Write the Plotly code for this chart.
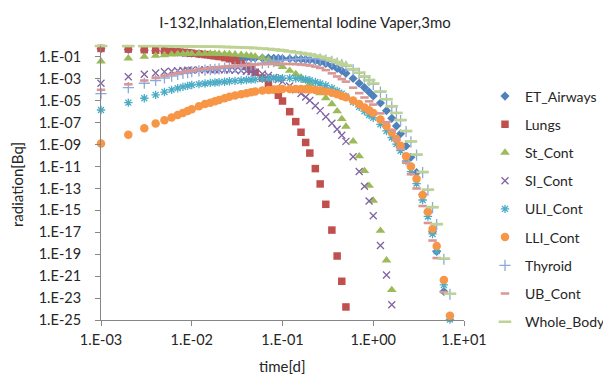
import plotly.graph_objects as go

# ---------------- data ----------------
time_d = [0.001, 0.002, 0.003, 0.004, 0.005, 0.006, 0.007, 0.008, 0.009,
          0.01, 0.012, 0.014, 0.016, 0.018, 0.02, 0.023, 0.026, 0.03, 0.035, 0.04, 0.045, 0.05, 0.06, 0.07, 0.08, 0.09,
          0.1, 0.12, 0.14, 0.16, 0.18, 0.2, 0.23, 0.26, 0.3, 0.35, 0.4, 0.45, 0.5, 0.6, 0.7, 0.8, 0.9,
          1.0, 1.2, 1.4, 1.6, 1.8, 2.0, 2.3, 2.6, 3.0, 3.5, 4.0, 4.5, 5.0, 6.0, 7.0]

et_airways = [5.6e-1, 4.8e-1, 4.2e-1, 3.7e-1, 3.3e-1, 3.0e-1, 2.75e-1, 2.5e-1, 2.34e-1,
              2.19e-1, 1.9e-1, 1.66e-1, 1.48e-1, 1.35e-1, 1.26e-1, 1.15e-1, 1.05e-1, 9.8e-2, 9.1e-2, 8.7e-2, 8.3e-2, 8.1e-2, 7.9e-2, 7.8e-2, 7.6e-2, 7.4e-2,
              7.2e-2, 6.9e-2, 6.6e-2, 6.3e-2, 5.9e-2, 5.4e-2, 4.5e-2, 3.5e-2, 2.5e-2, 1.5e-2, 8.9e-3, 5.6e-3, 3.2e-3, 1.1e-3, 4.0e-4, 1.6e-4, 6.3e-5,
              2.75e-5, 6.3e-6, 1.26e-6, 2.5e-7, 5.0e-8, 1.0e-8, 7.6e-10, 7.1e-11, 2.8e-12, 2.8e-14, 6.3e-16, 1.12e-17, 1.78e-19, 4.0e-23]

lungs = [6.0e-1, 5.2e-1, 4.6e-1, 4.1e-1, 3.6e-1, 3.2e-1, 2.9e-1, 2.6e-1, 2.4e-1,
         2.2e-1, 1.9e-1, 1.66e-1, 1.45e-1, 1.26e-1, 1.1e-1, 8.7e-2, 6.8e-2, 4.7e-2, 2.6e-2, 1.4e-2, 7.6e-3, 4.0e-3, 1.2e-3, 3.5e-4, 1.05e-4, 3.2e-5,
         9.5e-6, 1.02e-6, 1.26e-7, 1.35e-8, 1.58e-9, 1.7e-10, 6.5e-12, 2.6e-13, 3.6e-15, 1.6e-17, 6.9e-20, 3.4e-22, 1.55e-24]

st_cont = [4.0e-2, 7.6e-2, 1.07e-1, 1.32e-1, 1.51e-1, 1.7e-1, 1.82e-1, 1.9e-1, 1.95e-1,
           2.0e-1, 2.04e-1, 2.04e-1, 2.04e-1, 2.0e-1, 1.95e-1, 1.9e-1, 1.82e-1, 1.74e-1, 1.58e-1, 1.41e-1, 1.26e-1, 1.12e-1, 8.3e-2, 5.6e-2, 3.5e-2, 2.2e-2,
           1.26e-2, 5.6e-3, 2.8e-3, 1.4e-3, 7.1e-4, 3.5e-4, 1.26e-4, 5.0e-5, 1.78e-5, 5.0e-6, 1.12e-6, 2.24e-7, 4.5e-8, 2.0e-9, 8.9e-11, 4.0e-12, 1.78e-13,
           7.9e-15, 1.41e-17, 2.8e-20, 5.6e-23]

si_cont = [4.0e-4, 1.58e-3, 2.6e-3, 3.5e-3, 4.4e-3, 5.0e-3, 5.5e-3, 5.9e-3, 6.2e-3,
           6.3e-3, 6.6e-3, 6.8e-3, 6.8e-3, 6.8e-3, 6.8e-3, 6.6e-3, 6.5e-3, 6.2e-3, 5.6e-3, 5.0e-3, 4.4e-3, 3.8e-3, 2.8e-3, 2.0e-3, 1.35e-3, 8.9e-4,
           5.6e-4, 2.24e-4, 1.0e-4, 4.7e-5, 2.24e-5, 1.05e-5, 3.5e-6, 1.26e-6, 3.5e-7, 8.9e-8, 2.5e-8, 7.1e-9, 2.0e-9, 7.9e-11, 3.5e-12, 1.58e-13, 7.1e-15,
           3.2e-16, 6.3e-19, 1.26e-21, 2.5e-24]

uli_cont = [1.45e-6, 6.8e-6, 1.7e-5, 3.5e-5, 6.3e-5, 1.0e-4, 1.41e-4, 1.86e-4, 2.3e-4,
            2.75e-4, 3.3e-4, 3.8e-4, 4.3e-4, 4.7e-4, 5.0e-4, 5.5e-4, 6.0e-4, 6.6e-4, 7.2e-4, 7.9e-4, 8.5e-4, 9.1e-4, 1.0e-3, 1.07e-3, 1.12e-3, 1.15e-3,
            1.17e-3, 1.17e-3, 1.1e-3, 1.0e-3, 8.7e-4, 7.4e-4, 5.2e-4, 3.8e-4, 2.5e-4, 1.41e-4, 7.9e-5, 4.5e-5, 2.5e-5, 7.9e-6, 2.8e-6, 1.12e-6, 5.0e-7,
            2.8e-7, 7.1e-8, 1.78e-8, 4.5e-9, 1.12e-9, 2.8e-10, 3.2e-11, 3.5e-12, 2.8e-13, 8.9e-15, 2.8e-16, 7.1e-18, 2.0e-19, 1.58e-22, 1.12e-25]

lli_cont = [1.26e-9, 7.9e-9, 3.1e-8, 8.3e-8, 1.66e-7, 2.95e-7, 5.0e-7, 7.9e-7, 1.17e-6,
            1.66e-6, 3.2e-6, 5.0e-6, 6.6e-6, 9.1e-6, 1.2e-5, 1.7e-5, 2.3e-5, 3.0e-5, 4.0e-5, 5.0e-5, 6.0e-5, 6.9e-5, 8.5e-5, 9.8e-5, 1.07e-4, 1.15e-4,
            1.17e-4, 1.2e-4, 1.2e-4, 1.17e-4, 1.12e-4, 1.07e-4, 9.8e-5, 8.7e-5, 7.2e-5, 5.4e-5, 3.9e-5, 2.8e-5, 2.1e-5, 1.05e-5, 5.0e-6, 2.5e-6, 1.35e-6,
            7.6e-7, 2.0e-7, 5.0e-8, 1.26e-8, 3.2e-9, 7.9e-10, 8.9e-11, 1.0e-11, 7.6e-13, 2.5e-14, 7.6e-16, 2.0e-17, 5.6e-19, 4.5e-22, 2.5e-25]

thyroid = [4.5e-5, 1.58e-4, 4.0e-4, 7.1e-4, 1.2e-3, 1.78e-3, 2.5e-3, 3.2e-3, 3.8e-3,
           4.5e-3, 5.4e-3, 6.2e-3, 6.9e-3, 7.6e-3, 8.3e-3, 9.5e-3, 1.07e-2, 1.2e-2, 1.41e-2, 1.66e-2, 1.9e-2, 2.14e-2, 2.69e-2, 3.24e-2, 3.8e-2, 4.37e-2,
           4.9e-2, 5.75e-2, 6.46e-2, 6.92e-2, 7.24e-2, 7.24e-2, 6.92e-2, 6.3e-2, 5.25e-2, 4.0e-2, 2.8e-2, 2.0e-2, 1.38e-2, 6.6e-3, 3.2e-3, 1.48e-3, 6.9e-4,
           3.2e-4, 6.3e-5, 1.26e-5, 2.8e-6, 7.1e-7, 1.58e-7, 1.58e-8, 1.78e-9, 1.12e-10, 2.8e-12, 7.1e-14, 1.78e-15, 5.0e-17, 3.5e-20, 2.24e-23]

ub_cont = [1.0e-4, 3.2e-4, 7.1e-4, 1.26e-3, 1.9e-3, 2.6e-3, 3.4e-3, 4.2e-3, 5.0e-3,
           5.8e-3, 7.1e-3, 8.3e-3, 9.5e-3, 1.07e-2, 1.17e-2, 1.32e-2, 1.45e-2, 1.58e-2, 1.74e-2, 1.86e-2, 1.95e-2, 2.04e-2, 2.19e-2, 2.29e-2, 2.34e-2, 2.34e-2,
           2.34e-2, 2.29e-2, 2.19e-2, 2.04e-2, 1.86e-2, 1.66e-2, 1.32e-2, 1.0e-2, 6.3e-3, 3.2e-3, 1.66e-3, 9.5e-4, 5.6e-4, 1.58e-4, 5.0e-5, 2.0e-5, 8.9e-6,
           4.5e-6, 7.1e-7, 1.12e-7, 1.78e-8, 2.8e-9, 4.0e-10, 2.24e-11, 2.0e-12, 1.0e-13, 2.5e-15, 7.1e-17, 1.78e-18, 4.5e-20, 3.5e-23]

whole_body = [9.9e-1, 9.8e-1, 9.7e-1, 9.66e-1, 9.6e-1, 9.5e-1, 9.4e-1, 9.33e-1, 9.25e-1,
              9.16e-1, 9.0e-1, 8.87e-1, 8.7e-1, 8.57e-1, 8.43e-1, 8.22e-1, 8.0e-1, 7.76e-1, 7.41e-1, 7.08e-1, 6.76e-1, 6.46e-1, 5.89e-1, 5.37e-1, 4.79e-1, 4.37e-1,
              3.89e-1, 3.24e-1, 2.69e-1, 2.29e-1, 1.95e-1, 1.66e-1, 1.32e-1, 1.05e-1, 7.76e-2, 5.25e-2, 3.55e-2, 2.4e-2, 1.66e-2, 7.9e-3, 3.7e-3, 1.7e-3, 7.9e-4,
              3.8e-4, 7.1e-5, 1.41e-5, 3.2e-6, 7.9e-7, 1.78e-7, 1.78e-8, 2.0e-9, 1.26e-10, 3.2e-12, 7.9e-14, 2.0e-15, 5.6e-17, 4.0e-20, 2.5e-23]

series_names = ["ET_Airways", "Lungs", "St_Cont", "SI_Cont", "ULI_Cont",
                "LLI_Cont", "Thyroid", "UB_Cont", "Whole_Body"]

x_tick_vals = [1e-3, 1e-2, 1e-1, 1e0, 1e1]
x_tick_text = ["1.E-03", "1.E-02", "1.E-01", "1.E+00", "1.E+01"]
y_tick_vals = [1e-25, 1e-23, 1e-21, 1e-19, 1e-17, 1e-15, 1e-13, 1e-11, 1e-9, 1e-7, 1e-5, 1e-3, 1e-1]
y_tick_text = ["1.E-25", "1.E-23", "1.E-21", "1.E-19", "1.E-17", "1.E-15", "1.E-13",
               "1.E-11", "1.E-09", "1.E-07", "1.E-05", "1.E-03", "1.E-01"]

title_text = "I-132,Inhalation,Elemental Iodine Vaper,3mo"
x_title = "time[d]"
y_title = "radiation[Bq]"

# ---------------- styles ----------------
series_values = [et_airways, lungs, st_cont, si_cont, uli_cont,
                 lli_cont, thyroid, ub_cont, whole_body]
styles = [
    dict(symbol="diamond", size=7, color="#4F81BD", lw=0),
    dict(symbol="square", size=7.5, color="#C0504D", lw=0),
    dict(symbol="triangle-up", size=8.5, color="#9BBB59", lw=0),
    dict(symbol="x-thin", size=7, color="#8064A2", lw=1.3),
    dict(symbol="asterisk", size=7, color="#4BACC6", lw=1.3),
    dict(symbol="circle", size=8.5, color="#F79646", lw=0),
    dict(symbol="cross-thin", size=8, color="#8DA9D9", lw=1.3),
    dict(symbol="line-ew", size=6, color="#D99694", lw=2.6),
    dict(symbol="line-ew", size=9, color="#BDD393", lw=2.6),
]

FONT = "Lato, 'Liberation Sans', sans-serif"
TXT = "#262626"
AX = "#868686"

# The page body has an 8px margin, so the figure is drawn 8px right/down.
OFF = 8
FW, FH = 611 - OFF, 380 - OFF
# target plot area on screen: x 101..464, y 46..320
L, T = 101 - OFF, 46 - OFF
R, B = FW - (464 - OFF), FH - (320 - OFF)
PW, PH = FW - L - R, FH - T - B


def px_x(sx):
    return (sx - OFF - L) / PW


def px_y(sy):
    return 1 - (sy - OFF - T) / PH


fig = go.Figure()
for name, vals, st in zip(series_names, series_values, styles):
    fig.add_trace(go.Scatter(
        x=time_d[:len(vals)], y=vals, name=name, mode="markers",
        legendgroup=name, cliponaxis=False,
        marker=dict(symbol=st["symbol"], size=st["size"], color=st["color"],
                    line=dict(width=st["lw"], color=st["color"])),
    ))

fig.update_layout(
    width=FW, height=FH,
    margin=dict(l=L, r=R, t=T, b=B, autoexpand=False),
    paper_bgcolor="white", plot_bgcolor="white",
    font=dict(family=FONT, size=15, color=TXT),
    showlegend=True,
    legend=dict(x=px_x(485), xanchor="left",
                y=px_y(80.5), yanchor="top",
                font=dict(family=FONT, size=14, color=TXT),
                tracegroupgap=7, itemsizing="trace",
                bgcolor="rgba(0,0,0,0)"),
    title=dict(text=title_text, x=(305 - OFF) / FW, xref="container", xanchor="center",
               y=1 - 15 / FH, yref="container", yanchor="middle",
               font=dict(family=FONT, size=15, color=TXT)),
)

fig.update_xaxes(type="log", range=[-3, 1], showgrid=False, zeroline=False,
                 showline=True, linecolor=AX, linewidth=1,
                 ticks="outside", ticklen=5, tickcolor=AX,
                 tickvals=x_tick_vals, ticktext=x_tick_text,
                 ticklabelstandoff=2,
                 tickfont=dict(family=FONT, size=14.5, color=TXT))
fig.update_yaxes(type="log", range=[-25, 0], showgrid=False, zeroline=False,
                 showline=True, linecolor=AX, linewidth=1,
                 ticks="outside", ticklen=5, tickcolor=AX,
                 tickvals=y_tick_vals, ticktext=y_tick_text,
                 ticklabelstandoff=11,
                 tickfont=dict(family=FONT, size=14.5, color=TXT))

fig.add_annotation(text=y_title, textangle=-90, xref="paper", yref="paper",
                   x=px_x(17), y=px_y(185), showarrow=False,
                   xanchor="center", yanchor="middle",
                   font=dict(family=FONT, size=15, color=TXT))
fig.add_annotation(text=x_title, xref="paper", yref="paper",
                   x=px_x(282.5), y=px_y(366), showarrow=False,
                   xanchor="center", yanchor="middle",
                   font=dict(family=FONT, size=15, color=TXT))

fig.write_html("out.html")
